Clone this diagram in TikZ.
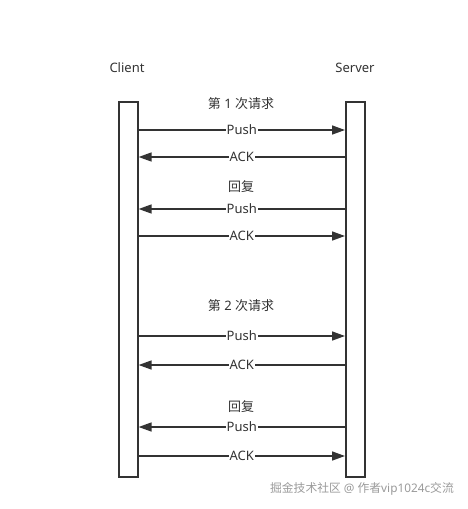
\documentclass[tikz,border=0pt]{standalone}
\usepackage{fontspec}
\setmainfont{Noto Sans}
\newfontfamily\cjk{Noto Sans CJK SC}
\usetikzlibrary{arrows.meta}
\definecolor{ink}{HTML}{333333}
\definecolor{wm}{HTML}{9A9A9A}
\tikzset{
  lifebar/.style={draw=ink, line width=1.6pt, fill=white, minimum width=19pt, minimum height=375pt, inner sep=0pt, anchor=north west},
  msg/.style={draw=ink, line width=1.5pt, -{Triangle[length=13pt,width=9pt]}},
  msglabel/.style={fill=white, inner sep=1pt, font=\fontsize{13}{15}\selectfont, text=ink},
  title/.style={font=\fontsize{13}{15}\selectfont, text=ink, inner sep=0pt},
}
\begin{document}
\begin{tikzpicture}[x=1pt, y=-1pt]
\useasboundingbox (0,0) rectangle (467,509);
\node[lifebar] (cbar) at (118,101) {};
\node[lifebar] (sbar) at (345,101) {};
\node[title] (client) at (127,68) {Client};
\node[title] (server) at (355,68) {Server};
% request 1
\node[title] (req1) at (241,104) {{\cjk 第} 1 {\cjk 次请求}};
\draw[msg] (cbar.east |- 0,130) -- node[msglabel] (p1) {Push} (sbar.west |- 0,130);
\draw[msg] (sbar.west |- 0,157) -- node[msglabel] (a1) {ACK} (cbar.east |- 0,157);
\node[title] (rep1) at (241,187) {\cjk 回复};
\draw[msg] (sbar.west |- 0,209) -- node[msglabel] (p2) {Push} (cbar.east |- 0,209);
\draw[msg] (cbar.east |- 0,236) -- node[msglabel] (a2) {ACK} (sbar.west |- 0,236);
% request 2
\node[title] (req2) at (241,306) {{\cjk 第} 2 {\cjk 次请求}};
\draw[msg] (cbar.east |- 0,336) -- node[msglabel] (p3) {Push} (sbar.west |- 0,336);
\draw[msg] (sbar.west |- 0,365) -- node[msglabel] (a3) {ACK} (cbar.east |- 0,365);
\node[title] (rep2) at (241,407) {\cjk 回复};
\draw[msg] (sbar.west |- 0,427) -- node[msglabel] (p4) {Push} (cbar.east |- 0,427);
\draw[msg] (cbar.east |- 0,456) -- node[msglabel] (a4) {ACK} (sbar.west |- 0,456);
% watermark
\node[font=\fontsize{11.8}{14}\selectfont, text=wm, inner sep=0pt, anchor=east] (wmark) at (454,489) {{\cjk 掘金技术社区} @ {\cjk 作者}vip1024c{\cjk 交流}};
\end{tikzpicture}
\end{document}
